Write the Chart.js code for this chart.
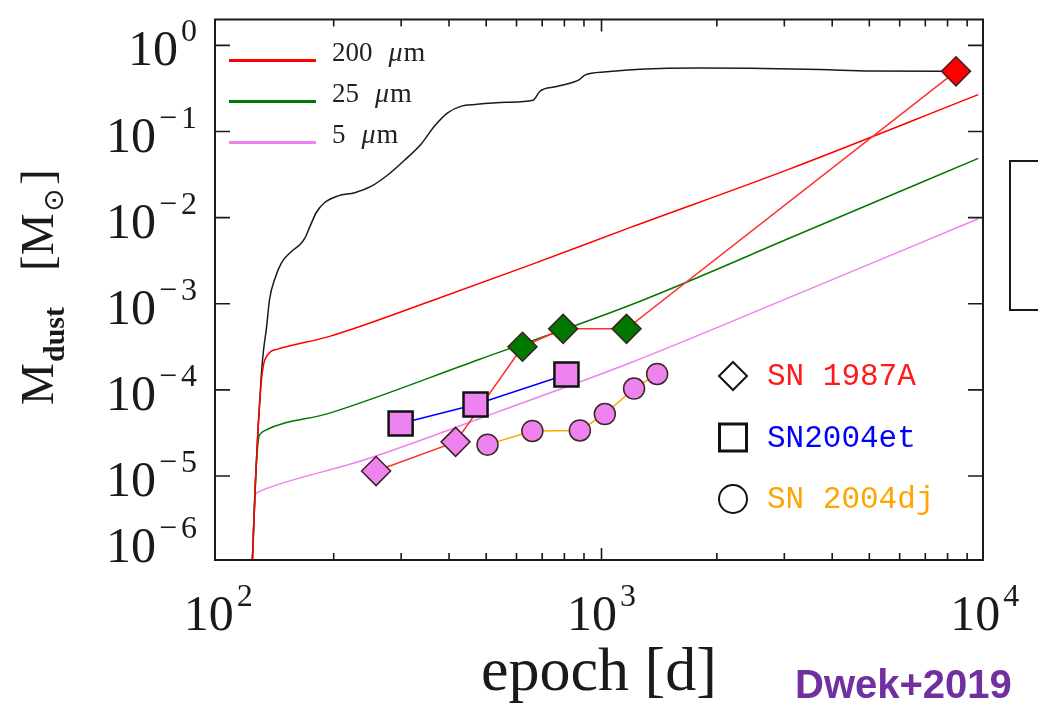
<!DOCTYPE html>
<html>
<head>
<meta charset="utf-8">
<script src="https://cdn.jsdelivr.net/npm/chart.js@4.4.1/dist/chart.umd.min.js"></script>
<style>
  html, body { margin: 0; padding: 0; background: #fff; }
  canvas { display: block; }
</style>
</head>
<body>
<canvas id="c" width="1038" height="703"></canvas>
<script>
// Epochs in days, dust masses in solar masses.

// Total dust mass of the model
const totalEpoch = [122.3, 122.7, 125.2, 126.9, 128.6, 129.5, 131.2, 133.5, 136.1, 140.3, 146.1, 155.1, 163.1, 168.0, 173.2, 180.3, 189.5, 205.3, 227.0, 250.9, 277.2, 306.5, 338.8, 367.1, 397.6, 431.0, 467.0, 564.9, 662.8, 690.1, 763.0, 877.8, 904.4, 1030.6, 1259, 1805, 2439, 3715, 5018, 7643, 8418];
const totalMass  = [7e-7, 1.06e-6, 1.03e-5, 3.44e-5, 9.0e-5, 1.53e-4, 2.9e-4, 5.21e-4, 1.143e-3, 1.93e-3, 2.98e-3, 4.05e-3, 4.83e-3, 5.74e-3, 7.80e-3, 1.155e-2, 1.50e-2, 1.789e-2, 1.95e-2, 2.32e-2, 3.15e-2, 4.67e-2, 7.23e-2, 0.1167, 0.1658, 0.1971, 0.206, 0.2189, 0.2306, 0.2919, 0.3328, 0.404, 0.452, 0.493, 0.529, 0.547, 0.543, 0.525, 0.506, 0.502, 0.502];

// Dust mass visible at 200 um
const model200Epoch = [122.3, 122.7, 125.2, 126.9, 129.5, 131.3, 133.6, 137.0, 142.0, 195.2, 356.1, 649.8, 1185.6, 3041, 9623];
const model200Mass  = [7e-7, 1.06e-6, 1.03e-5, 3.44e-5, 1.28e-4, 1.99e-4, 2.45e-4, 2.78e-4, 2.95e-4, 4.18e-4, 1.06e-3, 2.81e-3, 7.65e-3, 0.0356, 0.268];

// Dust mass visible at 25 um
const model25Epoch = [122.3, 122.7, 125.2, 127.3, 129.0, 132.1, 195.2, 481.2, 1185.6, 3294, 9623];
const model25Mass  = [7e-7, 1.06e-6, 1.03e-5, 2.7e-5, 3.1e-5, 3.36e-5, 5.37e-5, 2.27e-4, 9.6e-4, 6.49e-3, 0.0488];

// Dust mass visible at 5 um
const model5Epoch = [122.3, 122.7, 124.7, 126.3, 129.8, 238.5, 542.7, 1185.6, 3294, 9623];
const model5Mass  = [7e-7, 1.06e-6, 5.9e-6, 6.4e-6, 6.8e-6, 1.52e-5, 5.66e-5, 2.05e-4, 1.33e-3, 9.69e-3];

// Observed supernovae
const sn1987aEpoch = [258, 416, 622, 794, 1162, 8418];
const sn1987aMass  = [1.14e-5, 2.49e-5, 3.17e-4, 5.11e-4, 5.11e-4, 0.50];
const sn1987aBand  = ['5', '5', '25', '25', '25', '200'];

const sn2004etEpoch = [299, 469, 810];
const sn2004etMass  = [4.06e-5, 6.75e-5, 1.505e-4];

const sn2004djEpoch = [504, 660, 878, 1020, 1216, 1397];
const sn2004djMass  = [2.31e-5, 3.33e-5, 3.38e-5, 5.24e-5, 1.035e-4, 1.53e-4];

// Axis ticks
const xMajorTicks = [100, 1000, 10000];
const xMinorTicks = [200, 300, 400, 500, 600, 700, 800, 900, 2000, 3000, 4000, 5000, 6000, 7000, 8000, 9000];
const yMajorTicks = [1, 1e-1, 1e-2, 1e-3, 1e-4, 1e-5, 1e-6];

// Legend entries
const bandLabels = ['200', '25', '5'];
const sourceLabels = ['SN 1987A', 'SN2004et', 'SN 2004dj'];

// Colours
const bandColor = { '200': '#ff0000', '25': '#007800', '5': '#ee82ee' };
const sourceColor = ['#ff1a1a', '#0000ff', '#ffa500'];

const toPoints = (xs, ys) => xs.map((x, i) => ({ x: x, y: ys[i] }));

const SERIF = '"Liberation Serif", "DejaVu Serif", serif';
const BASE_FONT = '50px ' + SERIF;
const SUP_FONT = '32px ' + SERIF;

function drawPower(ctx, exp, x, baseY, align) {
  const minus = exp < 0 ? '\u2212' : '';
  const digit = String(Math.abs(exp));
  ctx.font = BASE_FONT;
  const wb = ctx.measureText('10').width;
  ctx.font = SUP_FONT;
  const wm = minus ? ctx.measureText(minus).width + 4 : 0;
  const wd = ctx.measureText(digit).width;
  const gap = 3;
  const total = wb + gap + wm + wd;
  const x0 = align === 'right' ? x - total : x - total / 2;
  ctx.textAlign = 'left';
  ctx.textBaseline = 'alphabetic';
  ctx.font = BASE_FONT;
  ctx.fillText('10', x0, baseY);
  ctx.font = SUP_FONT;
  if (minus) ctx.fillText(minus, x0 + wb + gap, baseY - 24);
  ctx.fillText(digit, x0 + wb + gap + wm, baseY - 24);
}

function rotText(ctx, text, font, xb, ys) {
  ctx.save();
  ctx.translate(xb, ys);
  ctx.rotate(-Math.PI / 2);
  ctx.font = font;
  ctx.textAlign = 'left';
  ctx.textBaseline = 'alphabetic';
  ctx.fillText(text, 0, 0);
  ctx.restore();
}

const frameAndLabels = {
  id: 'frameAndLabels',
  beforeDraw(chart) {
    const ctx = chart.ctx;
    ctx.save();
    ctx.fillStyle = '#ffffff';
    ctx.fillRect(0, 0, chart.width, chart.height);
    ctx.restore();
  },
  afterDraw(chart) {
    const ctx = chart.ctx;
    const a = chart.chartArea;
    const xs = chart.scales.x, ys = chart.scales.y;
    ctx.save();

    // plot frame
    ctx.strokeStyle = '#1a1a1a';
    ctx.lineWidth = 2;
    ctx.strokeRect(a.left, a.top, a.right - a.left, a.bottom - a.top);

    // inward ticks on all four sides
    ctx.lineWidth = 1.6;
    ctx.beginPath();
    const xTick = (v, len) => {
      const px = xs.getPixelForValue(v);
      if (px <= a.left + 6 || px >= a.right - 6) return;
      ctx.moveTo(px, a.bottom); ctx.lineTo(px, a.bottom - len);
      ctx.moveTo(px, a.top); ctx.lineTo(px, a.top + len);
    };
    xMajorTicks.forEach(v => xTick(v, 12));
    xMinorTicks.forEach(v => xTick(v, 7));
    yMajorTicks.forEach(v => {
      const py = ys.getPixelForValue(v);
      if (py <= a.top + 1 || py >= a.bottom - 1) return;
      ctx.moveTo(a.left, py); ctx.lineTo(a.left + 15, py);
      ctx.moveTo(a.right, py); ctx.lineTo(a.right - 15, py);
    });
    ctx.stroke();

    // tick labels
    ctx.fillStyle = '#1a1a1a';
    yMajorTicks.forEach(v => {
      const py = ys.getPixelForValue(v);
      const baseY = Math.min(py + 20, a.bottom + 2);
      drawPower(ctx, Math.round(Math.log10(v)), a.left - 18, baseY, 'right');
    });
    xMajorTicks.forEach(v => {
      const px = xs.getPixelForValue(v);
      drawPower(ctx, Math.round(Math.log10(v)), px, a.bottom + 70, 'center');
    });

    // axis titles
    ctx.font = '62px ' + SERIF;
    ctx.textAlign = 'center';
    ctx.textBaseline = 'alphabetic';
    ctx.fillText('epoch [d]', (a.left + a.right) / 2, a.bottom + 130);

    rotText(ctx, 'M', '47px ' + SERIF, 53, 405);
    rotText(ctx, 'dust', 'bold 30px ' + SERIF, 64, 362);
    rotText(ctx, '[M', '47px ' + SERIF, 53, 271);
    rotText(ctx, '\u2299', '28px "DejaVu Sans", sans-serif', 63, 212);
    rotText(ctx, ']', '47px ' + SERIF, 53, 185);

    // wavelength legend
    bandLabels.forEach((lab, i) => {
      const yy = a.top + 41 + i * 41;
      ctx.strokeStyle = bandColor[lab];
      ctx.lineWidth = 3;
      ctx.beginPath();
      ctx.moveTo(a.left + 14, yy);
      ctx.lineTo(a.left + 101, yy);
      ctx.stroke();
      ctx.fillStyle = '#222';
      ctx.textAlign = 'left';
      ctx.font = '27px ' + SERIF;
      ctx.fillText(lab, a.left + 117, yy);
      const w = ctx.measureText(lab).width;
      const xm = a.left + 117 + w + 16;
      ctx.font = 'italic 28px ' + SERIF;
      ctx.fillText('\u03bc', xm, yy);
      const wmu = ctx.measureText('\u03bc').width;
      ctx.font = '28px ' + SERIF;
      ctx.fillText('m', xm + wmu + 1, yy);
    });

    // supernova legend
    const mx = 733;
    sourceLabels.forEach((lab, i) => {
      const cy = 376 + i * 61.5;
      ctx.strokeStyle = '#111';
      ctx.beginPath();
      if (i === 0) {
        ctx.lineWidth = 2;
        ctx.moveTo(mx, cy - 14); ctx.lineTo(mx + 14, cy); ctx.lineTo(mx, cy + 14); ctx.lineTo(mx - 14, cy); ctx.closePath();
      } else if (i === 1) {
        ctx.lineWidth = 3;
        ctx.rect(mx - 13.5, cy - 13.5, 27, 27);
      } else {
        ctx.lineWidth = 2;
        ctx.arc(mx, cy, 14, 0, Math.PI * 2);
      }
      ctx.stroke();
      ctx.fillStyle = sourceColor[i];
      ctx.font = '31px "Liberation Mono", "DejaVu Sans Mono", monospace';
      ctx.textAlign = 'left';
      ctx.fillText(lab, 767, cy + 9);
    });

    // neighbouring panel edge
    ctx.strokeStyle = '#1a1a1a';
    ctx.lineWidth = 2;
    ctx.strokeRect(1010, 161, 60, 149);

    // reference tag
    ctx.fillStyle = '#7030a0';
    ctx.font = 'bold 40px "Liberation Sans", Arial, sans-serif';
    ctx.textAlign = 'left';
    ctx.fillText('Dwek+2019', 795, 698);

    ctx.restore();
  }
};

const modelLine = (label, xs, ys, color, order) => ({
  label: label,
  data: toPoints(xs, ys),
  showLine: true,
  borderColor: color,
  borderWidth: 1.5,
  pointRadius: 0,
  cubicInterpolationMode: 'monotone',
  order: order
});

new Chart(document.getElementById('c'), {
  type: 'scatter',
  data: {
    datasets: [
      {
        label: 'SN2004et',
        data: toPoints(sn2004etEpoch, sn2004etMass),
        showLine: true,
        borderColor: sourceColor[1],
        borderWidth: 1.5,
        pointStyle: 'rect',
        pointRadius: 17,
        pointBackgroundColor: bandColor['5'],
        pointBorderColor: '#111',
        pointBorderWidth: 2.5,
        order: 0
      },
      {
        label: 'SN 2004dj',
        data: toPoints(sn2004djEpoch, sn2004djMass),
        showLine: true,
        borderColor: sourceColor[2],
        borderWidth: 1.5,
        pointStyle: 'circle',
        pointRadius: 10.5,
        pointBackgroundColor: bandColor['5'],
        pointBorderColor: '#3a2a22',
        pointBorderWidth: 1.5,
        order: 1
      },
      {
        label: 'SN 1987A',
        data: toPoints(sn1987aEpoch, sn1987aMass),
        showLine: true,
        borderColor: '#ff3030',
        borderWidth: 1.5,
        pointStyle: 'rectRot',
        pointRadius: 14.5,
        pointBackgroundColor: sn1987aBand.map(b => bandColor[b]),
        pointBorderColor: '#3a2222',
        pointBorderWidth: 1.5,
        order: 2
      },
      modelLine('200 um', model200Epoch, model200Mass, bandColor['200'], 3),
      modelLine('25 um', model25Epoch, model25Mass, bandColor['25'], 4),
      modelLine('5 um', model5Epoch, model5Mass, bandColor['5'], 5),
      modelLine('total', totalEpoch, totalMass, '#1a1a1a', 6)
    ]
  },
  options: {
    responsive: false,
    devicePixelRatio: 1,
    animation: false,
    events: [],
    layout: { padding: { left: 215, right: 55, top: 8, bottom: 143 } },
    plugins: {
      legend: { display: false },
      tooltip: { enabled: false }
    },
    scales: {
      x: { type: 'logarithmic', min: 98, max: 9900, display: false },
      y: { type: 'logarithmic', min: 1.057e-6, max: 2.0, display: false }
    }
  },
  plugins: [frameAndLabels]
});
</script>
</body>
</html>
